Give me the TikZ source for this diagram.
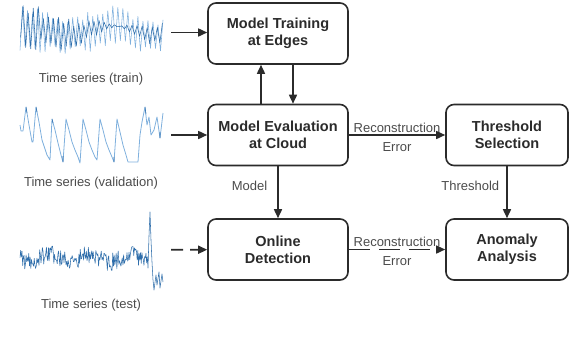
\documentclass[tikz,border=0pt]{standalone}
\usepackage{fontspec}
\setmainfont{Liberation Sans}
\usepackage{tikz}
\usetikzlibrary{arrows.meta, positioning}
\definecolor{tinta}{HTML}{2B2B2B}
\definecolor{serie}{HTML}{2F6EAB}
\definecolor{serieclara}{HTML}{7FB0DD}
\tikzset{
  every picture/.style={font=\fontsize{13}{15}\selectfont, >={Triangle[length=9pt,width=8pt]}},
  blk/.style={draw=tinta, text=tinta, line width=1.6pt, rounded corners=8pt,
              minimum width=140pt, minimum height=61pt, align=center,
              font=\fontsize{14.5}{17}\selectfont\bfseries},
  tsbox/.style={minimum width=143pt, minimum height=58pt, inner sep=0pt},
  lbl/.style={text=tinta!85, font=\fontsize{13}{15}\selectfont, inner sep=1pt},
  arr/.style={->, line width=1.6pt, tinta},
  arrd/.style={->, line width=1.6pt, tinta, dash pattern=on 21pt off 9pt},
  tsline/.style={serie, line width=0.55pt, line join=round},
}
\begin{document}
\begin{tikzpicture}[x=1pt, y=-1pt]
  \useasboundingbox (0,0) rectangle (570,338);
  \node[blk] (MT) at (278,33.5) {Model Training\\at Edges};
  \node[blk] (ME) at (278,135) {Model Evaluation\\at Cloud};
  \node[blk, minimum width=122pt] (TS) at (507,135) {Threshold\\Selection};
  \node[blk] (OD) at (278,249.5) {Online\\Detection};
  \node[blk, minimum width=122pt] (AA) at (507,249.5) {Anomaly\\Analysis};
  \node[tsbox] (train) at (91.5,32.5) {};
  \node[tsbox] (valid) at (91.5,135) {};
  \node[tsbox, minimum height=80pt] (test) at (91.5,250) {};
  \node[lbl] (trainlbl) at (91,79) {Time series (train)};
  \node[lbl] (validlbl) at (91,183) {Time series (validation)};
  \node[lbl] (testlbl) at (91,305) {Time series (test)};
  \pgfmathsetseed{11}
  \draw[tsline, serieclara] plot[domain=20:163, samples=58]
    (\x, {31 - 4*sin(\x*4) + cos(72*(\x-20))*(12+12*rnd)});
  \draw[tsline] plot[domain=20.6:162.4, samples=57]
    (\x, {30 - 4*sin(\x*4) + cos(72*(\x-20.6))*(11+12*rnd)});
  \draw[tsline, serieclara, line width=0.8pt] (20,125) -- (21,131) -- (23,131) -- (26,107) -- (29,125) -- (32,142)
    -- (33,142) -- (36,107) -- (39,122) -- (42,140) -- (44,146) -- (47,155) -- (50,160) -- (52,119)
    -- (55,130) -- (58,143) -- (61,155) -- (63,162) -- (66,119) -- (69,130) -- (72,142) -- (75,150)
    -- (78,157) -- (80,163) -- (83,119) -- (86,130) -- (89,142) -- (92,150) -- (95,157) -- (97,160)
    -- (100,119) -- (103,130) -- (106,142) -- (109,150) -- (112,157) -- (114,162) -- (117,119)
    -- (120,132) -- (123,145) -- (126,155) -- (128,162) -- (138,162) -- (140,135) -- (142,122)
    -- (145,107) -- (147,125) -- (149,117) -- (151,135) -- (154,130) -- (157,117) -- (160,138)
    -- (161,130) -- (163,113);
  \draw[tsline] (26,107) -- (27,113) (36,107) -- (37,112) (52,119) -- (53,123) (63,162) -- (63,156)
    (114,162) -- (114,157) (145,107) -- (146,114) (160,138) -- (160,132);
  \pgfmathsetseed{5}
  \draw[tsline] plot[domain=20:148, samples=190] (\x, {258 - 4*sin(\x*9) + 9*rand})
    -- (149,236) -- (150,212) -- (151,240) -- (152,262) -- (153,280) -- (154,290) -- (156,275)
    -- (157,285) -- (159,272) -- (160,288) -- (162,274) -- (163,282);
  \draw[arr, shorten <=8pt] (train) -- (train -| MT.west);
  \draw[arr, shorten <=8pt] (valid) -- (ME);
  \draw[arr, shorten <=8pt, dash pattern=on 12pt off 7pt] (test) -- (OD);
  \draw[arr] ([xshift=-17pt]ME.north) -- ([xshift=-17pt]MT.south);
  \draw[arr] ([xshift=15pt]MT.south) -- ([xshift=15pt]ME.north);
  \draw[arr] (ME) -- node[lbl, pos=0.38, left=9pt] {Model} (OD);
  \draw[arr] (TS) -- node[lbl, pos=0.38, left=6pt] {Threshold} (AA);
  \draw[arr] (ME) -- node[lbl, above=1pt] {Reconstruction} node[lbl, below=6pt] {Error} (TS);
  \draw[arrd] (OD) -- node[lbl, above=1pt] {Reconstruction} node[lbl, below=5pt] {Error} (AA);
\end{tikzpicture}
\end{document}
